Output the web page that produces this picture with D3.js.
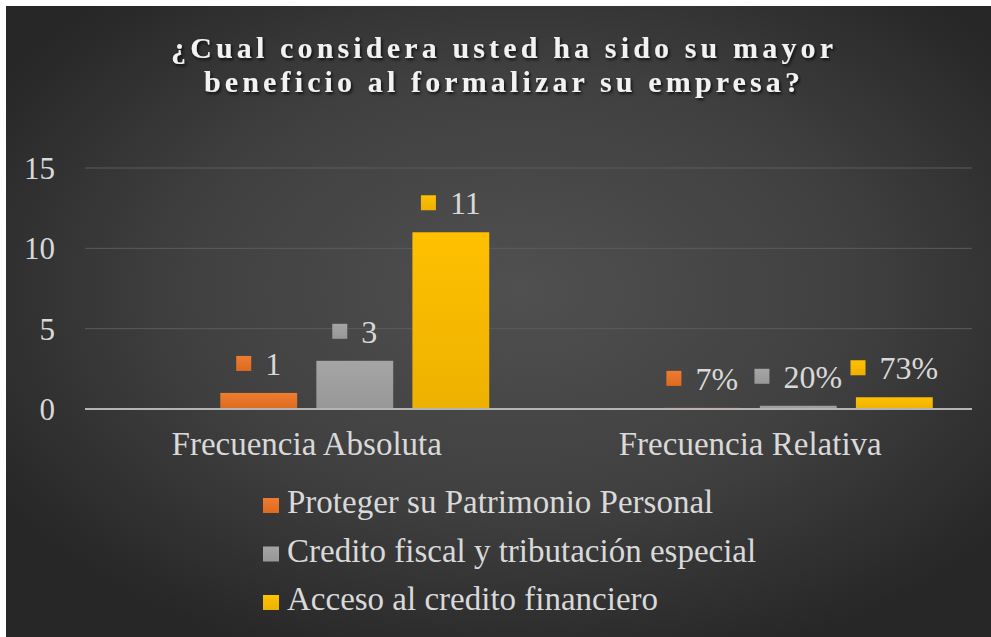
<!DOCTYPE html>
<html>
<head>
<meta charset="utf-8">
<script src="https://cdn.jsdelivr.net/npm/d3@7"></script>
<style>
  html, body { margin: 0; padding: 0; background: #fff; }
  svg { display: block; }
</style>
</head>
<body>
<div id="chart"></div>
<script>
// chart values
const categories = ["Frecuencia Absoluta", "Frecuencia Relativa"];
const seriesNames = ["Proteger su Patrimonio Personal", "Credito fiscal y tributación especial", "Acceso al credito financiero"];
const protegerValues = [1, 0.07];
const creditoValues = [3, 0.2];
const accesoValues = [11, 0.73];
const categoryFormats = ["d", ".0%"];
const yTicks = [0, 5, 10, 15];
const titleLines = ["¿Cual considera usted ha sido su mayor", "beneficio al formalizar su empresa?"];

const colors = ["#ED7D31", "#A5A5A5", "#FFC000"];
const colorsDark = ["#DE6A1E", "#979797", "#EDB200"];

var W = 991, H = 637;
var margin = {top: 168, right: 19, bottom: 228, left: 85};

var svg = d3.select("#chart").append("svg").attr("width", W).attr("height", H);
var defs = svg.append("defs");

var bg = defs.append("radialGradient").attr("id", "bg")
    .attr("cx", "52%").attr("cy", "45%").attr("r", "62%");
bg.append("stop").attr("offset", "0%").attr("stop-color", "#505050");
bg.append("stop").attr("offset", "55%").attr("stop-color", "#404040");
bg.append("stop").attr("offset", "100%").attr("stop-color", "#272727");

colors.forEach(function(c, i) {
  var lg = defs.append("linearGradient").attr("id", "bar" + i)
      .attr("x1", 0).attr("y1", 0).attr("x2", 0).attr("y2", 1);
  lg.append("stop").attr("offset", "0%").attr("stop-color", c);
  lg.append("stop").attr("offset", "100%").attr("stop-color", colorsDark[i]);
});

var shadow = defs.append("filter").attr("id", "shadow")
    .attr("x", "-10%").attr("y", "-30%").attr("width", "120%").attr("height", "160%");
shadow.append("feDropShadow").attr("dx", 1.5).attr("dy", 2).attr("stdDeviation", 1.5)
    .attr("flood-color", "#000").attr("flood-opacity", 0.75);

// white frame on top/left like the pasted picture, then the chart area
svg.append("rect").attr("width", W).attr("height", H).attr("fill", "#fff");
svg.append("rect").attr("x", 6).attr("y", 6).attr("width", W - 6).attr("height", H - 6)
    .attr("fill", "url(#bg)");

var width = W - margin.left - margin.right,
    height = H - margin.top - margin.bottom;
var g = svg.append("g").attr("transform", "translate(" + margin.left + "," + margin.top + ")");

var serif = "'Liberation Serif', 'Times New Roman', serif";

// the workbook has an empty first series, so each group keeps a blank slot
var slots = [""].concat(seriesNames);
var seriesValues = [protegerValues, creditoValues, accesoValues];

var x0 = d3.scaleBand().domain(categories).range([0, width])
    .paddingInner(0.177).paddingOuter(0.0885);
var x1 = d3.scaleBand().domain(slots).range([0, x0.bandwidth()])
    .paddingInner(0.2).paddingOuter(0);
var y = d3.scaleLinear().domain([0, 15]).range([height, 0]);

// gridlines
g.append("g").selectAll("line")
  .data(yTicks.filter(function(d) { return d > 0; }))
  .enter().append("line")
    .attr("x1", 0).attr("x2", width)
    .attr("y1", y).attr("y2", y)
    .attr("stroke", "#5c5c5c").attr("stroke-width", 1);

// y axis labels
var yAxis = g.append("g")
    .attr("transform", "translate(-30,0)")
    .call(d3.axisLeft(y).tickValues(yTicks).tickSize(0).tickPadding(0));
yAxis.select(".domain").remove();
yAxis.selectAll("text")
    .attr("fill", "#d9d9d9")
    .attr("font-family", serif)
    .attr("font-size", 31)
    .attr("dy", "0.34em");

// bars
var rows = [];
seriesNames.forEach(function(s, si) {
  categories.forEach(function(c, ci) {
    rows.push({series: s, si: si, category: c, ci: ci, value: seriesValues[si][ci]});
  });
});

g.append("g").selectAll("rect")
  .data(rows)
  .enter().append("rect")
    .attr("x", function(d) { return x0(d.category) + x1(d.series); })
    .attr("y", function(d) { return y(d.value); })
    .attr("width", x1.bandwidth())
    .attr("height", function(d) { return y(0) - y(d.value); })
    .attr("fill", function(d) { return "url(#bar" + d.si + ")"; });

// baseline axis
g.append("line")
    .attr("x1", 0).attr("x2", width)
    .attr("y1", y(0)).attr("y2", y(0))
    .attr("stroke", "#b4b4b4").attr("stroke-width", 2);

// data labels: legend key square + value
var lbl = g.append("g").selectAll("g")
  .data(rows)
  .enter().append("g");
lbl.append("text")
    .attr("fill", "#d9d9d9")
    .attr("font-family", serif)
    .attr("font-size", 32)
    .text(function(d) { return d3.format(categoryFormats[d.ci])(d.value); });
lbl.each(function(d) {
  var t = d3.select(this).select("text");
  var tw = t.node().getComputedTextLength();
  var sq = 15, gap = 14;
  var total = sq + gap + tw;
  var cx = x0(d.category) + x1(d.series) + x1.bandwidth() / 2;
  var base = y(d.value) - 18;
  var left = cx - total / 2;
  d3.select(this).insert("rect", "text")
      .attr("x", left).attr("y", base - 4 - sq)
      .attr("width", sq).attr("height", sq)
      .attr("fill", "url(#bar" + d.si + ")");
  t.attr("x", left + sq + gap).attr("y", base);
});

// category labels
g.append("g").selectAll("text")
  .data(categories)
  .enter().append("text")
    .attr("x", function(d) { return x0(d) + x0.bandwidth() / 2; })
    .attr("y", height + 46)
    .attr("text-anchor", "middle")
    .attr("fill", "#d9d9d9")
    .attr("font-family", serif)
    .attr("font-size", 33)
    .text(function(d) { return d; });

// legend
var legend = svg.append("g").attr("transform", "translate(263,513)")
  .selectAll("g")
  .data(seriesNames)
  .enter().append("g")
    .attr("transform", function(d, i) { return "translate(0," + (i * 48.5) + ")"; });
legend.append("rect")
    .attr("x", 0).attr("y", -15)
    .attr("width", 16).attr("height", 15)
    .attr("fill", function(d, i) { return "url(#bar" + i + ")"; });
legend.append("text")
    .attr("x", 24)
    .attr("fill", "#d9d9d9")
    .attr("font-family", serif)
    .attr("font-size", 33)
    .text(function(d) { return d; });

// title
var titleLen = [662, 596];
svg.append("g").attr("filter", "url(#shadow)")
  .selectAll("text")
  .data(titleLines)
  .enter().append("text")
    .attr("x", 502)
    .attr("y", function(d, i) { return 58 + i * 34; })
    .attr("text-anchor", "middle")
    .attr("fill", "#f2f2f2")
    .attr("font-family", serif)
    .attr("font-weight", "bold")
    .attr("font-size", 30)
    .attr("textLength", function(d, i) { return titleLen[i]; })
    .attr("lengthAdjust", "spacing")
    .text(function(d) { return d; });
</script>
</body>
</html>
